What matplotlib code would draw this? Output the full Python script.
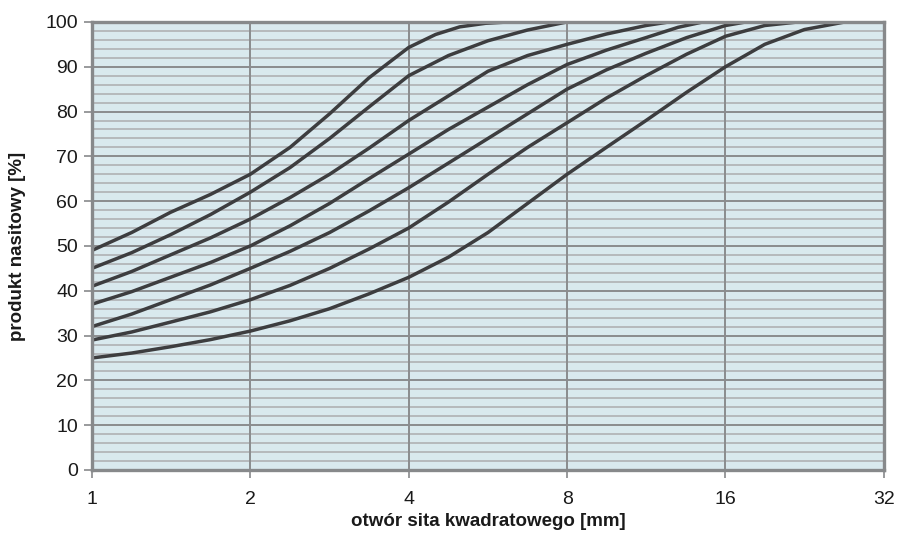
import matplotlib
matplotlib.use("Agg")
import matplotlib.pyplot as plt
from matplotlib.ticker import FixedLocator, MultipleLocator, NullFormatter

plt.rcParams['font.family'] = ['Liberation Sans', 'DejaVu Sans']

# sieve openings [mm] and passing fraction [%] for each grading curve
x_ticks = [1, 2, 4, 8, 16, 32]

curve_1_x = [1, 1.19, 1.41, 1.68, 2, 2.38, 2.83, 3.36, 4, 4.5, 5.0, 5.6, 6.2]
curve_1_y = [49, 53, 57.5, 61.5, 66, 72, 79.5, 87.5, 94.3, 97.2, 98.9, 99.7, 100]

curve_2_x = [1, 1.19, 1.41, 1.68, 2, 2.38, 2.83, 3.36, 4, 4.76, 5.66, 6.73, 8]
curve_2_y = [45, 48.5, 52.5, 57, 62, 67.5, 74, 81, 88, 92.5, 95.8, 98.2, 100]

curve_3_x = [1, 1.19, 1.41, 1.68, 2, 2.38, 2.83, 3.36, 4, 4.76, 5.66, 6.73, 8, 9.5, 11.3, 12.5]
curve_3_y = [41, 44.3, 48, 51.8, 56, 60.8, 66, 71.8, 78, 83.5, 89, 92.5, 95, 97.3, 99.2, 100]

curve_4_x = [1, 1.19, 1.41, 1.68, 2, 2.38, 2.83, 3.36, 4, 4.76, 5.66, 6.73, 8, 9.5, 11.3, 13, 14.5]
curve_4_y = [37, 39.8, 43, 46.3, 50, 54.5, 59.5, 65, 70.5, 76, 81, 86, 90.5, 93.7, 96.5, 98.8, 100]

curve_5_x = [1, 1.19, 1.41, 1.68, 2, 2.38, 2.83, 3.36, 4, 4.76, 5.66, 6.73, 8, 9.5, 11.3, 13.5, 16, 17.5]
curve_5_y = [32, 34.8, 38, 41.3, 45, 48.8, 53, 57.8, 63, 68.5, 74, 79.5, 85, 89.3, 93, 96.5, 99.2, 100]

curve_6_x = [1, 1.19, 1.41, 1.68, 2, 2.38, 2.83, 3.36, 4, 4.76, 5.66, 6.73, 8, 9.5, 11.3, 13.5, 16, 19, 22]
curve_6_y = [29, 30.8, 33, 35.3, 38, 41.2, 45, 49.3, 54, 59.8, 66, 72, 77.5, 83, 88, 92.8, 96.8, 99.2, 100]

curve_7_x = [1, 1.19, 1.41, 1.68, 2, 2.38, 2.83, 3.36, 4, 4.76, 5.66, 6.73, 8, 9.5, 11.3, 13.5, 16, 19, 22.6, 27]
curve_7_y = [25, 26.1, 27.5, 29.1, 31, 33.3, 36, 39.3, 43, 47.5, 53, 59.5, 66, 72, 78, 84.3, 90, 95, 98.3, 100]

curves = [
    (curve_1_x, curve_1_y),
    (curve_2_x, curve_2_y),
    (curve_3_x, curve_3_y),
    (curve_4_x, curve_4_y),
    (curve_5_x, curve_5_y),
    (curve_6_x, curve_6_y),
    (curve_7_x, curve_7_y),
]

fig = plt.figure(figsize=(9.01, 5.35), dpi=100)
ax = fig.add_axes([0.102, 0.1215, 0.879, 0.8375])
ax.set_facecolor('#d9e9ee')

ax.set_xscale('log', base=2)
ax.set_xlim(1, 32)
ax.set_ylim(0, 100)

ax.xaxis.set_major_locator(FixedLocator(x_ticks))
ax.xaxis.set_minor_locator(FixedLocator([]))
ax.xaxis.set_minor_formatter(NullFormatter())
ax.set_xticklabels([str(t) for t in x_ticks])
ax.yaxis.set_major_locator(MultipleLocator(10))
ax.yaxis.set_minor_locator(MultipleLocator(2))

ax.grid(which='minor', axis='y', color='#b3b5b8', linewidth=1.3)
ax.grid(which='major', axis='both', color='#8a8c8e', linewidth=1.4)
ax.set_axisbelow(True)
# vertical grid over the minor horizontal lines, as in the original
ax.yaxis.set_zorder(0.4)
ax.xaxis.set_zorder(0.6)

for xs, ys in curves:
    ax.plot(xs, ys, color='#3d3d3f', linewidth=2.5, solid_joinstyle='round',
            solid_capstyle='butt', zorder=3)

for sp in ax.spines.values():
    sp.set_color('#87898b')
    sp.set_linewidth(2.4)
    sp.set_zorder(4)

ax.tick_params(axis='both', which='major', colors='#87898b', length=6,
               width=1.2, labelsize=14, labelcolor='#1a1a1a')
ax.tick_params(axis='y', which='minor', length=0)
ax.tick_params(axis='x', pad=9)
ax.tick_params(axis='y', pad=4)

ax.set_xlabel('otwór sita kwadratowego [mm]', fontsize=13.5, fontweight='bold',
              color='#1a1a1a', labelpad=4)
ax.set_ylabel('produkt nasitowy [%]', fontsize=13.5, fontweight='bold',
              color='#1a1a1a', labelpad=14)

fig.savefig('out.png', dpi=100)
